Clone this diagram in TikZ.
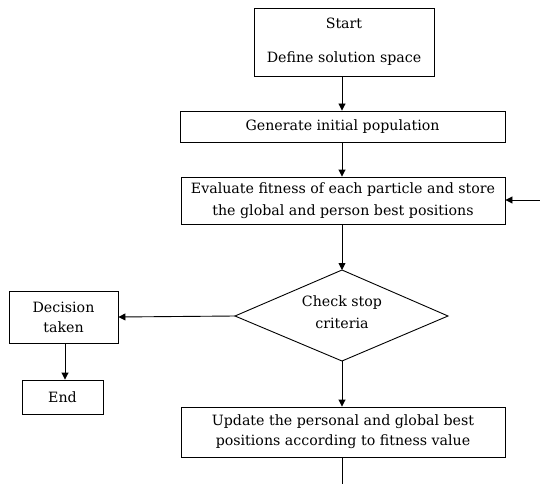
\documentclass[tikz,border=0pt]{standalone}
\usepackage{fontspec}
\setmainfont{DejaVu Serif}
\usetikzlibrary{arrows.meta,shapes.geometric}
\begin{document}
\begin{tikzpicture}[x=1pt,y=-1pt,
  box/.style={draw,line width=0.9pt,inner sep=0pt,font=\fontsize{14.2}{22}\selectfont,align=center},
  arr/.style={-{Triangle[length=7pt,width=7pt]},line width=0.9pt},
  ln/.style={line width=0.9pt}]
\useasboundingbox (0,0) rectangle (540,484);
\node[box,minimum width=180pt,minimum height=68pt] (start) at (344,42) {Start\\[12pt]Define solution space};
\node[box,minimum width=325pt,minimum height=31pt] (gen) at (342.5,126.5) {Generate initial population};
\node[box,minimum width=324pt,minimum height=47pt] (eval) at (343,200.5) {Evaluate fitness of each particle and store\\the global and person best positions};
\coordinate (diamT) at (342,270);
\coordinate (diamL) at (235,316);
\coordinate (diamR) at (448,316);
\coordinate (diamB) at (342,361);
\draw[ln] (diamT) -- (diamR) -- (diamB) -- (diamL) -- cycle;
\node[font=\fontsize{14.2}{22}\selectfont,align=center] (check) at (342,312) {Check stop\\criteria};
\node[box,minimum width=109pt,minimum height=52pt,font=\fontsize{14.2}{20}\selectfont] (dec) at (63.5,317) {Decision\\taken};
\node[box,minimum width=81pt,minimum height=34pt] (end) at (62.5,397) {End};
\node[box,minimum width=324pt,minimum height=50pt,font=\fontsize{14.2}{20}\selectfont] (upd) at (343,432) {Update the personal and global best\\positions according to fitness value};
\coordinate (rin) at (540,200);
\coordinate (bout) at (342,484);
\draw[arr] (start.south -| 342,0) -- (gen.north -| 342,0);
\draw[arr] (gen.south -| 342,0) -- (eval.north -| 342,0);
\draw[arr] (rin) -- (eval.east |- rin);
\draw[arr] (eval.south -| 342,0) -- (diamT);
\draw[arr] (diamL) -- (dec.east);
\draw[arr] (dec.south -| 65,0) -- (end.north -| 65,0);
\draw[arr] (diamB) -- (upd.north -| 342,0);
\draw[ln] (upd.south -| 342,0) -- (bout);
\end{tikzpicture}
\end{document}
